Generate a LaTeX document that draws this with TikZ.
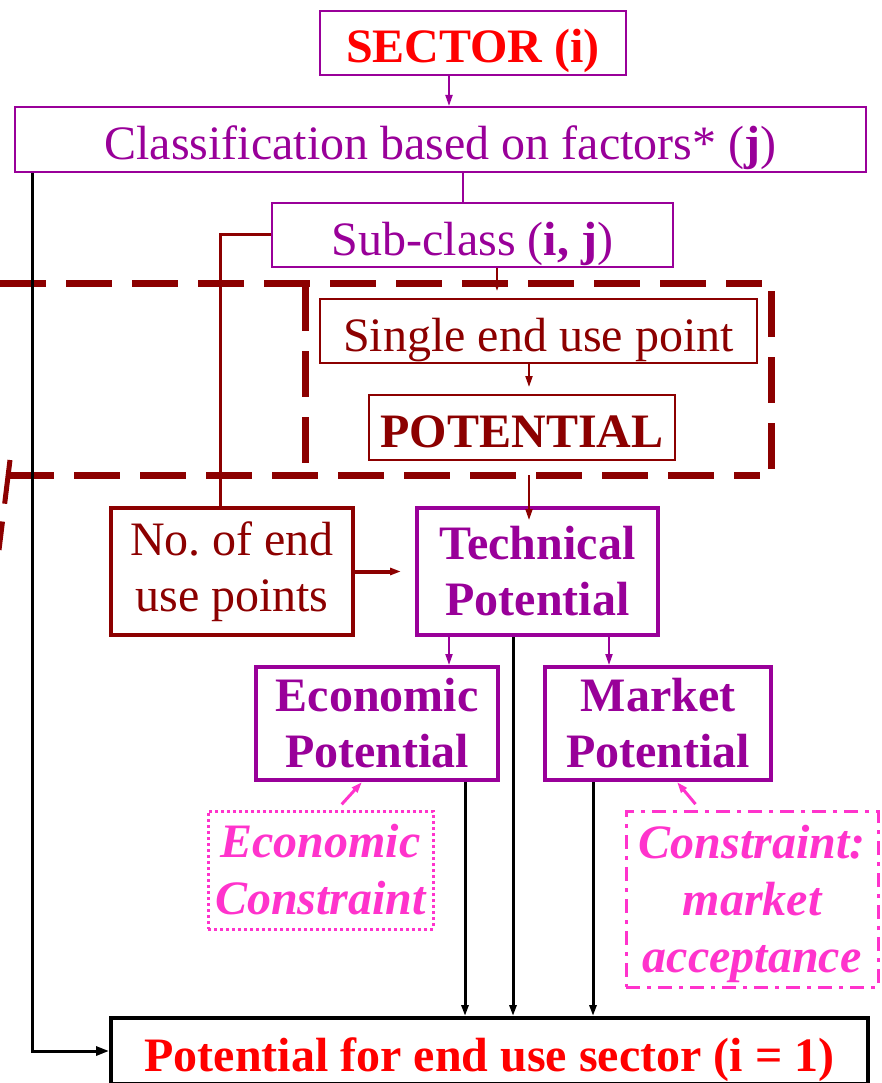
\documentclass[tikz,border=0pt]{standalone}
\usepackage{fontspec}
\setmainfont{Liberation Serif}
\usepackage{tikz}
\usetikzlibrary{arrows}
\usetikzlibrary{arrows.meta}

\definecolor{sectpurple}{RGB}{153,0,153}
\definecolor{unitred}{RGB}{140,0,0}
\definecolor{conspink}{RGB}{255,51,204}

\begin{document}
\begin{tikzpicture}[x=1pt,y=-1pt,
    font=\fontsize{48}{56}\selectfont,
    >={Triangle[length=11pt,width=7pt]},
    box/.style={draw, inner sep=0pt, align=center},
    oneline/.style={text height=48pt, text depth=8pt},
    thinbox/.style={box, oneline, sectpurple, line width=2pt, text=sectpurple},
    techbox/.style={box, sectpurple, line width=4pt, text=sectpurple, font=\fontsize{48}{56}\selectfont\bfseries},
    redbox/.style={box, unitred, text=unitred},
    consbox/.style={box, conspink, line width=3pt, text=conspink, font=\fontsize{48}{57}\selectfont\bfseries\itshape},
    plink/.style={->, sectpurple, line width=2pt},
    rlink/.style={->, unitred, line width=2pt},
    klink/.style={->, black, line width=3pt},
    klinktip/.style={->, black, line width=3pt, >={Triangle[length=13pt,width=9pt]}},
    unitdash/.style={unitred, line width=7pt, dash pattern=on 46pt off 20pt}
]
\useasboundingbox (0,0) rectangle (881,1083);

% boxes
\node[thinbox, minimum width=306pt, minimum height=64pt, text=red, font=\fontsize{48}{56}\selectfont\bfseries] (sector) at (473,43) {SECTOR (i)};
\node[thinbox, minimum width=851pt, minimum height=65pt] (classif) at (440.5,139.5) {Classification based on factors* (\textbf{j})};
\node[thinbox, minimum width=401pt, minimum height=64pt] (subclass) at (472.5,235) {Sub-class (\textbf{i, j})};
\node[redbox, oneline, line width=2pt, minimum width=437pt, minimum height=64pt] (single) at (538.5,331) {Single end use point};
\node[redbox, oneline, line width=2pt, minimum width=306pt, minimum height=65pt, font=\fontsize{48}{56}\selectfont\bfseries] (potential) at (522,427.5) {POTENTIAL};
\node[redbox, line width=4pt, minimum width=242pt, minimum height=127pt] (noend) at (232,571.5) {No.\ of end\\use points};
\node[techbox, minimum width=241pt, minimum height=127pt] (tech) at (537.5,571.5) {Technical\\Potential};
\node[techbox, minimum width=242pt, minimum height=113pt] (econ) at (377,723.5) {Economic\\Potential};
\node[techbox, minimum width=226pt, minimum height=113pt] (market) at (658,723.5) {Market\\Potential};
\node[consbox, dash pattern=on 3pt off 3pt, minimum width=225pt, minimum height=118pt] (econcons) at (320.5,870) {Economic\\Constraint};
\node[consbox, dash pattern=on 14pt off 7pt on 4pt off 7pt, minimum width=252pt, minimum height=176pt] (marketcons) at (752,899) {\rule{0pt}{44pt}Constraint:\\market\\acceptance};
\node[box, oneline, line width=4pt, minimum width=757pt, minimum height=66pt, text=red, font=\fontsize{48}{56}\selectfont\bfseries] (final) at (489.5,1051) {Potential for end use sector (i = 1)};

% dashed unit region
\draw[unitdash] (0,283) -- (762,283);
\draw[unitdash] (771,291) -- (771,471);
\draw[unitdash] (8,475) -- (760,475);
\draw[unitdash] (305,285) -- (305,465);
\draw[unitred, line width=5pt, dash pattern=on 44pt off 18pt] (10,460) -- (-1,550);
\coordinate (unitout) at (529,475);

% connectors
\draw[plink] ([xshift=-24pt]sector.south) -- ([xshift=-24pt]sector.south |- classif.north);
\draw[sectpurple, line width=2pt] ([xshift=22.5pt]classif.south) -- ([xshift=22.5pt]classif.south |- subclass.north);
\draw[unitred, line width=3pt] (subclass.west) -| ([xshift=-12pt]noend.north);
\draw[rlink, shorten >=7pt] ([xshift=24.5pt]subclass.south) -- ([xshift=24.5pt]subclass.south |- single.north);
\draw[rlink, shorten >=7pt] ([xshift=-9.5pt]single.south) -- ([xshift=-9.5pt]single.south |- potential.north);
\draw[rlink, shorten >=-14pt] (unitout) -- (unitout |- tech.north);
\draw[rlink, line width=4pt, shorten >=14pt] (noend.east) -- (tech.west);
\draw[plink] ([xshift=-88.5pt]tech.south) -- ([xshift=-88.5pt]tech.south |- econ.north);
\draw[plink] ([xshift=71.5pt]tech.south) -- ([xshift=71.5pt]tech.south |- market.north);
\draw[klink] ([xshift=-24.5pt]tech.south) -- ([xshift=-24.5pt]tech.south |- final.north);
\draw[klink] ([xshift=88pt]econ.south) -- ([xshift=88pt]econ.south |- final.north);
\draw[klink] ([xshift=-65pt]market.south) -- ([xshift=-65pt]market.south |- final.north);
\draw[klinktip] ([xshift=-408.5pt]classif.south) |- (final.west);
\draw[->, conspink, line width=3pt, shorten <=7pt] ([xshift=16.5pt]econcons.north) -- ([xshift=-15pt]econ.south);
\draw[->, conspink, line width=3pt, shorten <=7pt] ([xshift=-52pt]marketcons.north) -- ([xshift=19pt]market.south);

\end{tikzpicture}
\end{document}
